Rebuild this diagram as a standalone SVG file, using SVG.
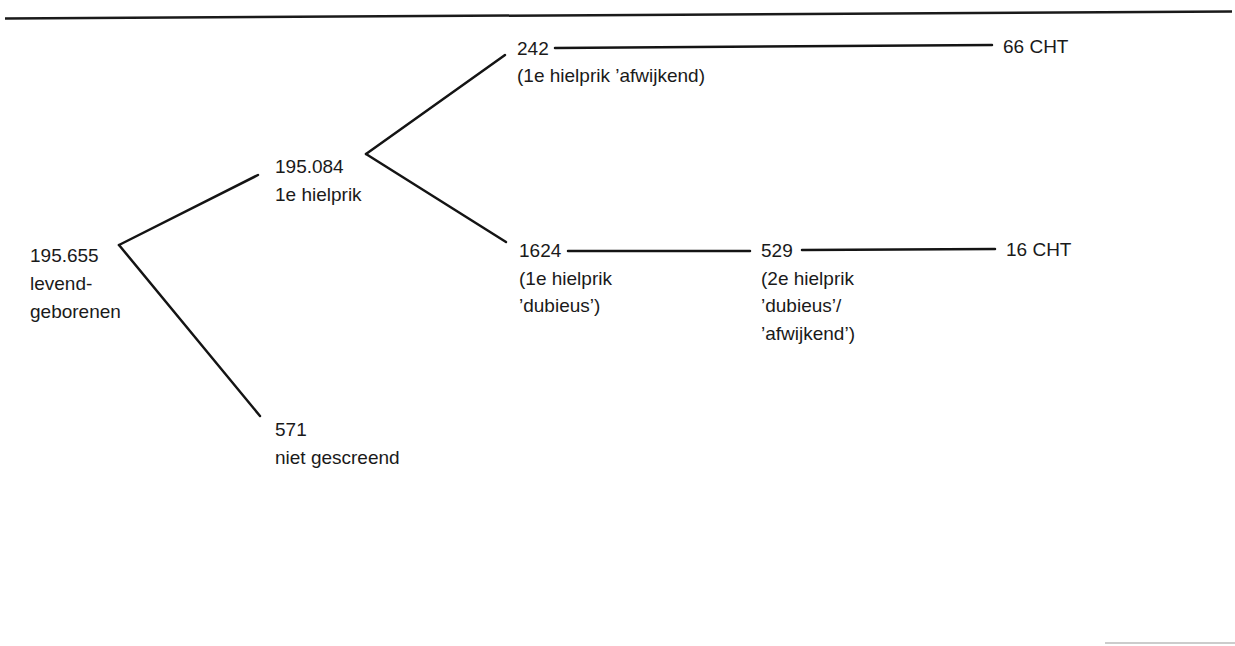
<svg xmlns="http://www.w3.org/2000/svg" width="1235" height="646" viewBox="0 0 1235 646">
<style>
text{font-family:"Liberation Sans",Arial,sans-serif;font-size:19px;fill:#1a1a1a}
.c line{stroke:#141414;stroke-width:2.5;stroke-linecap:round}
</style>
<rect width="1235" height="646" fill="#fff"/>
<line x1="5" y1="18.5" x2="1232" y2="11.5" stroke="#1a1a1a" stroke-width="2.5"/>
<line x1="1105" y1="643" x2="1235" y2="643" stroke="#bbb" stroke-width="1.5"/>
<g id="connectors" class="c">
<line x1="119" y1="245" x2="258" y2="175"/>
<line x1="119" y1="245" x2="260" y2="416"/>
<line x1="366" y1="154" x2="505" y2="55"/>
<line x1="366" y1="154" x2="506" y2="242"/>
<line x1="555" y1="48" x2="992" y2="45"/>
<line x1="568" y1="251" x2="750" y2="251"/>
<line x1="802" y1="250" x2="995" y2="249"/>
</g>
<g id="n-levend"><text x="30" y="262">195.655</text><text x="30" y="290">levend-</text><text x="30" y="318">geborenen</text></g>
<g id="n-hielprik1"><text x="275" y="173">195.084</text><text x="275" y="201">1e hielprik</text></g>
<g id="n-niet"><text x="275" y="436">571</text><text x="275" y="464">niet gescreend</text></g>
<g id="n-242"><text x="517" y="55">242</text><text x="517" y="82">(1e hielprik ’afwijkend)</text></g>
<g id="n-1624"><text x="519" y="257">1624</text><text x="519" y="285">(1e hielprik</text><text x="519" y="312">’dubieus’)</text></g>
<g id="n-529"><text x="761" y="257">529</text><text x="761" y="285">(2e hielprik</text><text x="761" y="312">’dubieus’/</text><text x="761" y="340">’afwijkend’)</text></g>
<g id="n-66"><text x="1003" y="53">66 CHT</text></g>
<g id="n-16"><text x="1006" y="256">16 CHT</text></g>
</svg>
